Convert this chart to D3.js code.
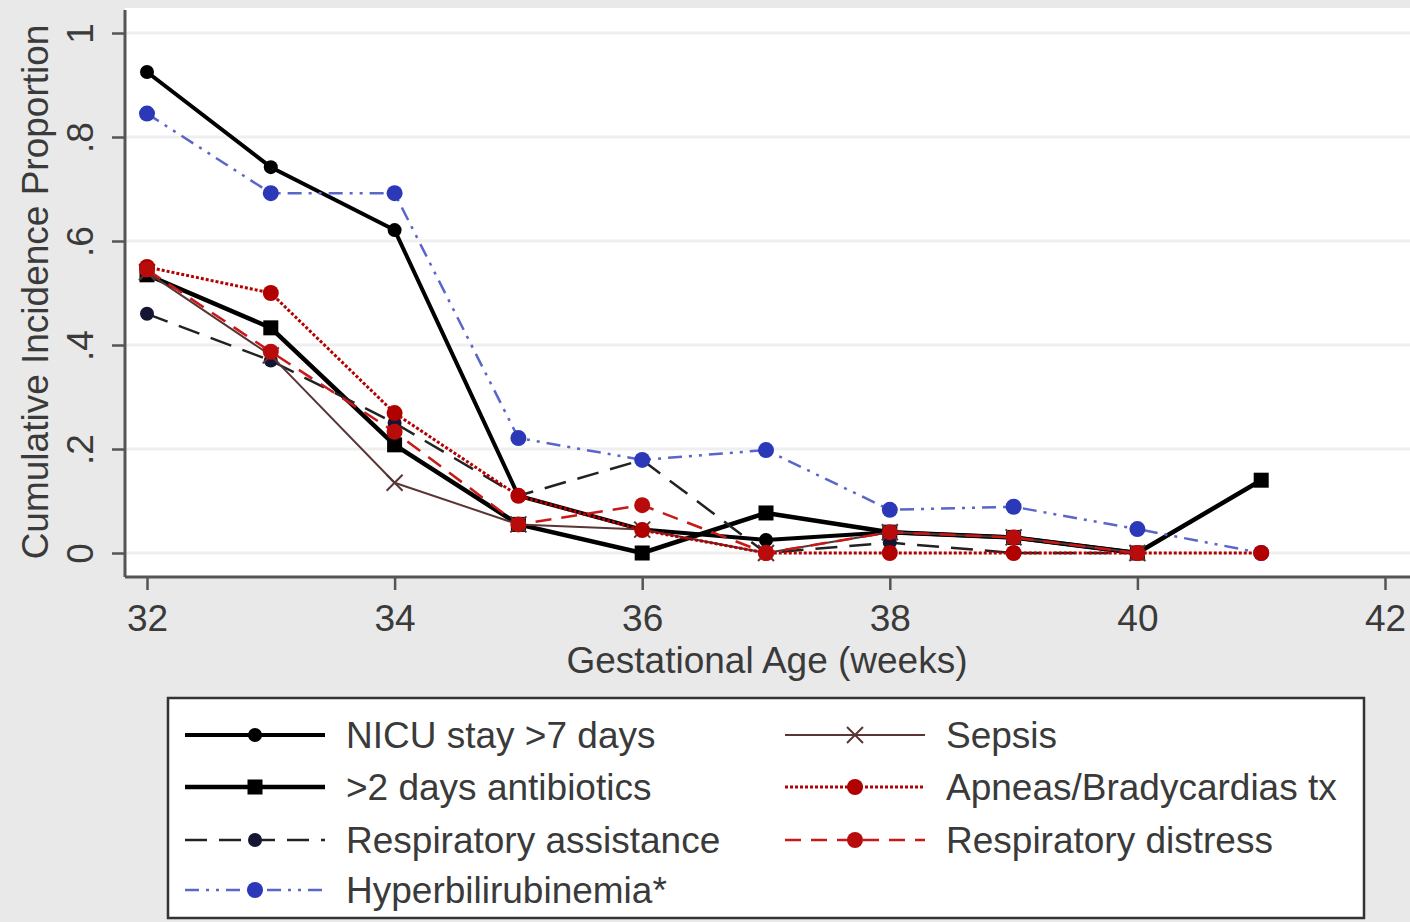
<!DOCTYPE html>
<html>
<head>
<meta charset="utf-8">
<script src="https://cdn.jsdelivr.net/npm/d3@7"></script>
<style>
  html, body { margin: 0; padding: 0; background: #e9e9e9; }
  svg { display: block; }
  text { font-family: "Liberation Sans", Arial, sans-serif; fill: #3a3a3a; }
</style>
</head>
<body>
<div id="chart"></div>
<script>
// data
const weeks = [32, 33, 34, 35, 36, 37, 38, 39, 40, 41];
const nicuStay = [0.925, 0.742, 0.621, 0.11, 0.045, 0.025, 0.04, 0.03, 0, null];
const antibiotics = [0.535, 0.433, 0.208, 0.055, 0, 0.077, 0.04, 0.03, 0, 0.14];
const respAssist = [0.46, 0.37, 0.25, 0.11, 0.179, 0, 0.02, 0, 0, null];
const hyperbili = [0.845, 0.692, 0.692, 0.221, 0.179, 0.198, 0.083, 0.089, 0.046, 0];
const sepsis = [0.54, 0.38, 0.135, 0.055, 0.045, 0, 0.04, 0.03, 0, null];
const apneas = [0.55, 0.5, 0.269, 0.11, 0.044, 0, 0, 0, 0, 0];
const respDistress = [0.545, 0.387, 0.233, 0.055, 0.092, 0, 0.04, 0.03, 0, null];

const xTicks = [32, 34, 36, 38, 40, 42];
const yTicks = [0, 0.2, 0.4, 0.6, 0.8, 1];
const yTickLabels = ['0', '.2', '.4', '.6', '.8', '1'];

const series = [
  {name: 'NICU stay >7 days', values: nicuStay, color: '#000', width: 4, dash: null, marker: 'circle', mColor: '#000', size: 7, col: 0, row: 0},
  {name: '>2 days antibiotics', values: antibiotics, color: '#000', width: 4.5, dash: null, marker: 'square', mColor: '#000', size: 15, col: 0, row: 1},
  {name: 'Respiratory assistance', values: respAssist, color: '#222', width: 2.5, dash: '22,12', marker: 'circle', mColor: '#141433', size: 7, col: 0, row: 2},
  {name: 'Hyperbilirubinemia*', values: hyperbili, color: '#5a66c8', width: 2.5, dash: '14,7,3,7,3,7', marker: 'circle', mColor: '#2b38b8', size: 8, col: 0, row: 3},
  {name: 'Sepsis', values: sepsis, color: '#5b3535', width: 2, dash: null, marker: 'x', mColor: '#5b3535', size: 8, col: 1, row: 0},
  {name: 'Apneas/Bradycardias tx', values: apneas, color: '#b50000', width: 3, dash: '3,2', marker: 'circle', mColor: '#b00000', size: 8, col: 1, row: 1},
  {name: 'Respiratory distress', values: respDistress, color: '#c81818', width: 2.5, dash: '16,10', marker: 'circle', mColor: '#b80c0c', size: 8, col: 1, row: 2}
];

const width = 1410, height = 922;
const plot = {left: 125, top: 8, right: 1410, bottom: 577};

const svg = d3.select('#chart').append('svg')
  .attr('width', width)
  .attr('height', height);

svg.append('rect')
  .attr('width', width).attr('height', height)
  .attr('fill', '#e9e9e9');

svg.append('rect')
  .attr('x', plot.left).attr('y', plot.top)
  .attr('width', plot.right - plot.left).attr('height', plot.bottom - plot.top)
  .attr('fill', '#fff');

const x = d3.scaleLinear().domain([32, 42]).range([147, 1385]);
const y = d3.scaleLinear().domain([0, 1]).range([553, 33]);

// grid
svg.append('g')
  .selectAll('line')
  .data(yTicks)
  .join('line')
  .attr('x1', plot.left).attr('x2', plot.right)
  .attr('y1', d => y(d)).attr('y2', d => y(d))
  .attr('stroke', '#efefef')
  .attr('stroke-width', 3);

// axes
const xAxis = d3.axisBottom(x).tickValues(xTicks).tickSize(13).tickPadding(6).tickFormat(d3.format('d'));
const yAxis = d3.axisLeft(y).tickValues(yTicks).tickSize(13).tickPadding(8).tickFormat((d, i) => yTickLabels[i]);

const gx = svg.append('g')
  .attr('transform', `translate(0, ${plot.bottom})`)
  .call(xAxis);
gx.select('.domain').attr('d', `M${plot.left},0H${plot.right}`);

const gy = svg.append('g')
  .attr('transform', `translate(${plot.left}, 0)`)
  .call(yAxis);
gy.select('.domain').attr('d', `M0,${plot.top + 2}V${plot.bottom}`);

[gx, gy].forEach(g => {
  g.select('.domain').attr('stroke', '#555').attr('stroke-width', 3);
  g.selectAll('.tick line').attr('stroke', '#555').attr('stroke-width', 2.5);
  g.selectAll('.tick text')
    .style('font-family', '"Liberation Sans", Arial, sans-serif')
    .style('font-size', '37px')
    .attr('fill', '#3a3a3a');
});

gx.selectAll('.tick text').attr('dy', '0.95em');

gy.selectAll('.tick text')
  .attr('text-anchor', 'middle')
  .attr('dy', null)
  .attr('x', null)
  .attr('transform', 'translate(-32, 0) rotate(-90)')
  .attr('y', 0);

svg.append('text')
  .attr('x', 767).attr('y', 673)
  .attr('text-anchor', 'middle')
  .style('font-size', '37px')
  .text('Gestational Age (weeks)');

svg.append('text')
  .attr('transform', 'translate(48, 292) rotate(-90)')
  .attr('text-anchor', 'middle')
  .style('font-size', '37px')
  .text('Cumulative Incidence Proportion');

// lines
const line = d3.line()
  .defined(d => d[1] != null)
  .x(d => x(d[0]))
  .y(d => y(d[1]));

function drawMarker(g, s, cx, cy) {
  if (s.marker === 'circle') {
    g.append('circle').attr('cx', cx).attr('cy', cy).attr('r', s.size).attr('fill', s.mColor);
  } else if (s.marker === 'square') {
    g.append('rect')
      .attr('x', cx - s.size / 2).attr('y', cy - s.size / 2)
      .attr('width', s.size).attr('height', s.size)
      .attr('fill', s.mColor);
  } else {
    const r = s.size;
    g.append('path')
      .attr('d', `M${cx - r},${cy - r}L${cx + r},${cy + r}M${cx - r},${cy + r}L${cx + r},${cy - r}`)
      .attr('stroke', s.mColor).attr('stroke-width', 2);
  }
}

series.forEach(s => {
  const pts = weeks.map((w, i) => [w, s.values[i]]);
  const g = svg.append('g');
  g.append('path')
    .datum(pts)
    .attr('d', line)
    .attr('fill', 'none')
    .attr('stroke', s.color)
    .attr('stroke-width', s.width)
    .attr('stroke-dasharray', s.dash)
    .attr('stroke-linejoin', 'round');
  pts.filter(p => p[1] != null).forEach(p => drawMarker(g, s, x(p[0]), y(p[1])));
});

// legend
const legend = svg.append('g');
legend.append('rect')
  .attr('x', 168).attr('y', 698)
  .attr('width', 1196).attr('height', 220)
  .attr('fill', '#fff')
  .attr('stroke', '#333')
  .attr('stroke-width', 2.5);

const colX = [185, 785];
const rowY = [735, 787, 840, 890];

series.forEach(s => {
  const lx = colX[s.col], ly = rowY[s.row];
  const g = legend.append('g');
  g.append('line')
    .attr('x1', lx).attr('x2', lx + 140)
    .attr('y1', ly).attr('y2', ly)
    .attr('stroke', s.color)
    .attr('stroke-width', s.width)
    .attr('stroke-dasharray', s.dash);
  drawMarker(g, s, lx + 70, ly);
  g.append('text')
    .attr('x', lx + 161).attr('y', ly)
    .attr('dy', '0.36em')
    .style('font-size', '37px')
    .text(s.name);
});
</script>
</body>
</html>
